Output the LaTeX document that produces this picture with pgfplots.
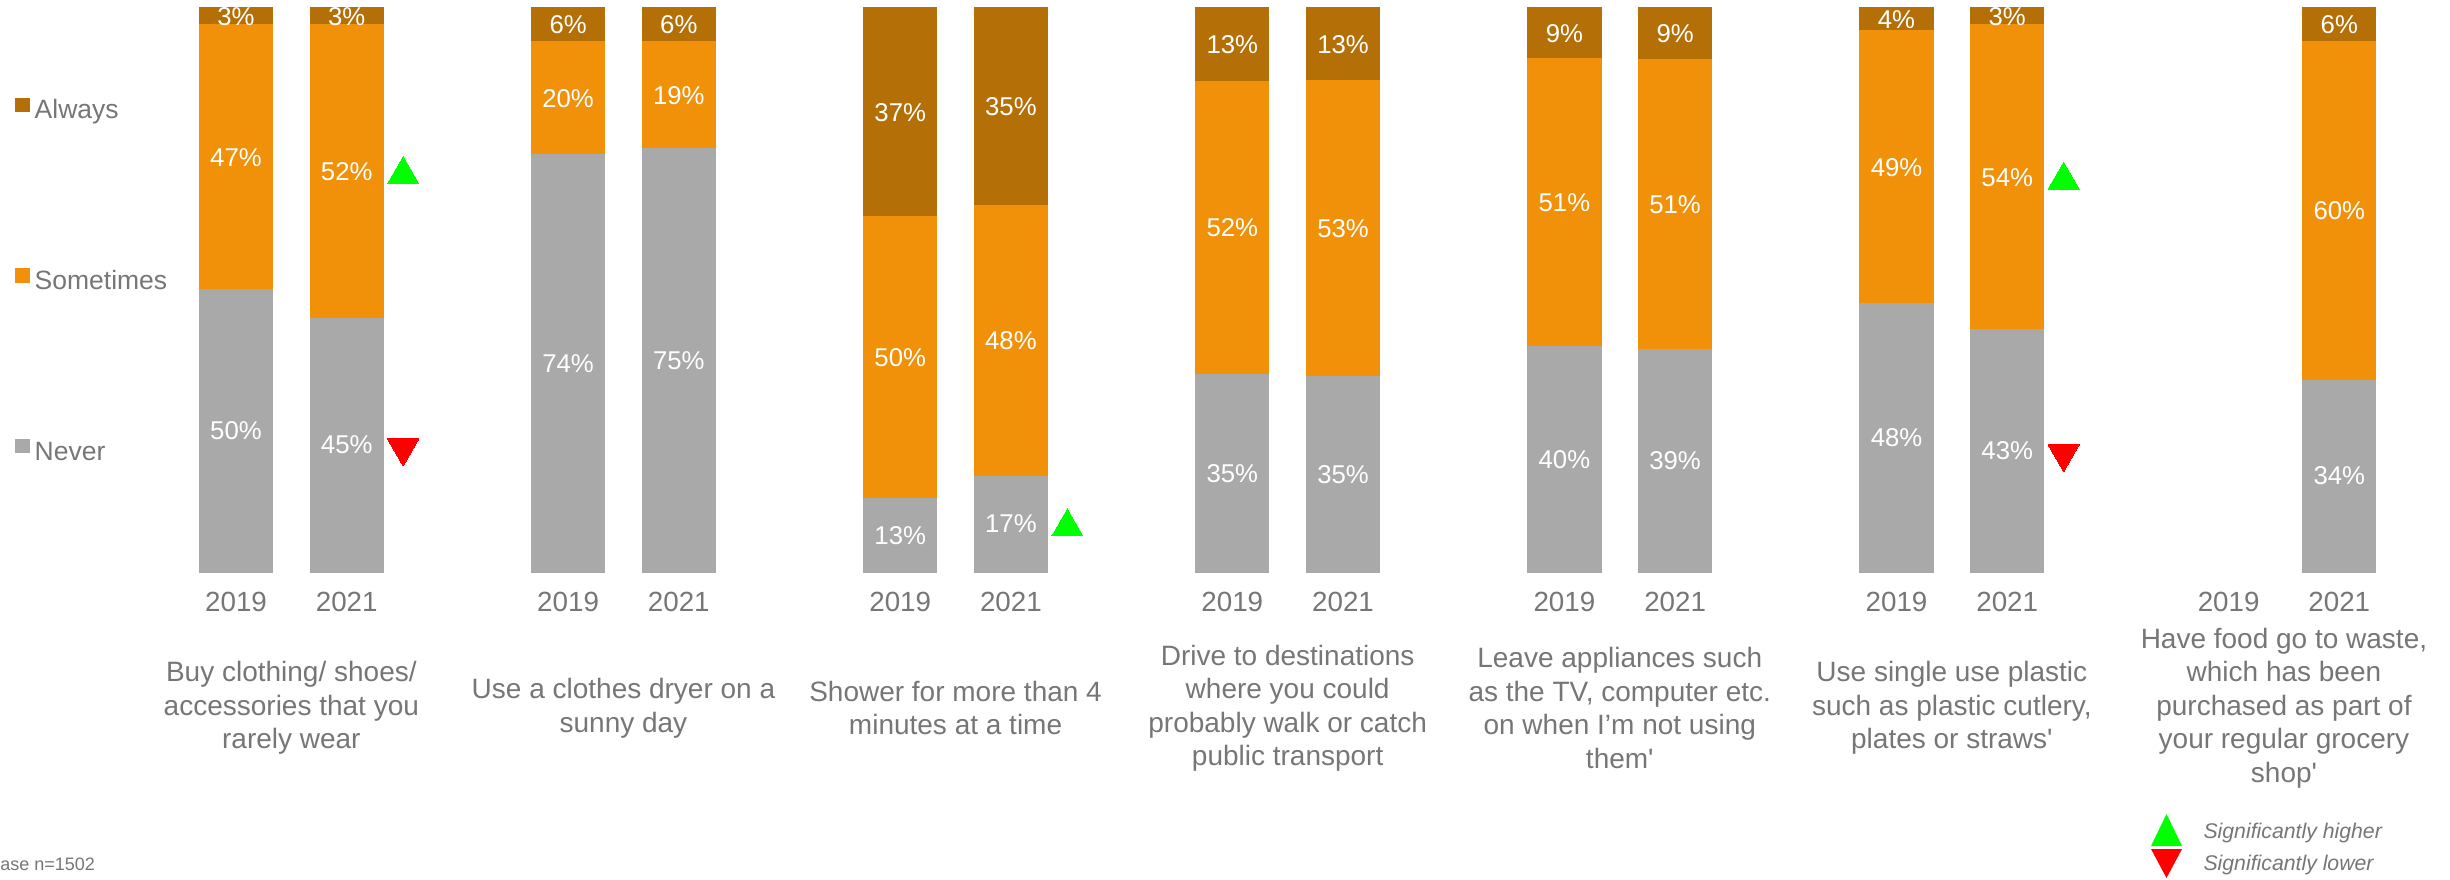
\documentclass[border=0pt]{standalone}
\usepackage{fontspec}
\setmainfont{Liberation Sans}
\usepackage{pgfplots}
\usepackage{pgfplotstable}
\pgfplotsset{compat=1.18}

\definecolor{alwaysc}{HTML}{B46F06}
\definecolor{sometimesc}{HTML}{F19009}
\definecolor{neverc}{HTML}{A9A9A9}
\definecolor{txt}{HTML}{767676}
\definecolor{sigup}{HTML}{00FF00}
\definecolor{sigdown}{HTML}{FF0000}

% x: 2019 at 3k, 2021 at 3k+1; n = never, s = sometimes, a = always (%)
\pgfplotstableread{
x  n  s  a
0  50 47 3
1  45 52 3
3  74 20 6
4  75 19 6
6  13 50 37
7  17 48 35
9  35 52 13
10 35 53 13
12 40 51 9
13 39 51 9
15 48 49 4
16 43 54 3
19 34 60 6
}\data

\newcommand{\tot}{(\thisrow{n}+\thisrow{s}+\thisrow{a})}

\pgfplotsset{
  seg/.style={ybar, bar width=29.2pt, bar shift=0pt, draw=#1, line width=0.5pt, fill=#1,
    legend image code/.code={\fill[##1] (0pt,0.3pt) rectangle (5.2pt,5.5pt);}},
  lbl/.style={only marks, mark=none, forget plot, point meta=explicit,
    nodes near coords={\pgfmathprintnumber[assume math mode=true]{\pgfplotspointmeta}\%},
    every node near coord/.append style={anchor=center, text=white,
      font=\fontsize{10.3}{12}\selectfont}},
}

\begin{document}
\begin{tikzpicture}
\begin{axis}[
  at={(0,0)}, anchor=south west,
  scale only axis, width=980pt, height=225.6pt,
  xmin=-2.132, xmax=20, ymin=0, ymax=100,
  clip=false,
  axis line style={draw=none}, major tick length=0pt,
  ytick=\empty,
  xtick={0,1,3,4,6,7,9,10,12,13,15,16,18,19},
  xticklabels={2019,2021,2019,2021,2019,2021,2019,2021,2019,2021,2019,2021,2019,2021},
  xticklabel style={anchor=center, yshift=-12pt, text=txt,
    font=\fontsize{11.1}{13}\selectfont},
  legend cell align=left,
  legend style={draw=none, fill=none, inner sep=0pt,
    at={(0.0061,0.842)}, anchor=north west,
    font=\fontsize{10.6}{12}\selectfont, text=txt,
    row sep=57.6pt,
    nodes={inner sep=0pt, text height=7.6pt, text depth=2.2pt},
    /tikz/every odd column/.append style={column sep=2pt}},
]
% bars drawn as cumulative shares, top segment first
\addplot[seg=alwaysc] table[x=x, y expr={100*(\thisrow{n}+\thisrow{s}+\thisrow{a})/\tot}] {\data};
\addlegendentry{Always}
\addplot[seg=sometimesc] table[x=x, y expr={100*(\thisrow{n}+\thisrow{s})/\tot}] {\data};
\addlegendentry{Sometimes}
\addplot[seg=neverc] table[x=x, y expr={100*\thisrow{n}/\tot}] {\data};
\addlegendentry{Never}

% value labels in the middle of each segment
\addplot[lbl] table[x=x, y expr={50*\thisrow{n}/\tot}, meta=n] {\data};
\addplot[lbl] table[x=x, y expr={100*(\thisrow{n}+\thisrow{s}/2)/\tot}, meta=s] {\data};
\addplot[lbl] table[x=x, y expr={100*(\thisrow{n}+\thisrow{s}+\thisrow{a}/2)/\tot}, meta=a] {\data};

% significance markers
\addplot[only marks, forget plot, color=sigup, mark=triangle*, mark size=7.2pt,
  mark options={draw=sigup, fill=sigup, line width=0pt}] coordinates {(1.51,70.5) (7.51,8) (16.51,69.5)};
\addplot[only marks, forget plot, color=sigdown, mark=triangle*, mark size=7.2pt,
  mark options={draw=sigdown, fill=sigdown, line width=0pt, rotate=180}] coordinates {(1.51,22) (16.51,21)};

% statement labels
\begin{scope}[every node/.style={align=center, text=txt, font=\fontsize{11.2}{13.4}\selectfont, yshift=-54.4pt}]
\node at (axis cs:0.5,0) {Buy clothing/ shoes/\\accessories that you\\rarely wear};
\node at (axis cs:3.5,0) {Use a clothes dryer on a\\sunny day};
\node at (axis cs:6.5,0) {Shower for more than 4\\minutes at a time};
\node at (axis cs:9.5,0) {Drive to destinations\\where you could\\probably walk or catch\\public transport};
\node at (axis cs:12.5,0) {Leave appliances such\\as the TV, computer etc.\\on when I’m not using\\them\textquotesingle};
\node at (axis cs:15.5,0) {Use single use plastic\\such as plastic cutlery,\\plates or straws\textquotesingle};
\node at (axis cs:18.5,0) {Have food go to waste,\\which has been\\purchased as part of\\your regular grocery\\shop\textquotesingle};
\end{scope}
\end{axis}

% base note and significance key
\node[anchor=west, inner sep=0pt, text=txt, font=\fontsize{7.2}{8}\selectfont] at (-4.9pt,-116.8pt) {Base n=1502};
\fill[sigup] (860.4pt,-109.6pt) -- (872.8pt,-109.6pt) -- (866.6pt,-96.8pt) -- cycle;
\fill[sigdown] (860.4pt,-110.8pt) -- (872.8pt,-110.8pt) -- (866.6pt,-122.4pt) -- cycle;
\node[anchor=west, inner sep=0pt, text=txt, font=\fontsize{8.5}{10}\selectfont\itshape] at (881.2pt,-104.4pt) {Significantly higher};
\node[anchor=west, inner sep=0pt, text=txt, font=\fontsize{8.5}{10}\selectfont\itshape] at (881.2pt,-117.2pt) {Significantly lower};

\pgfresetboundingbox
\useasboundingbox (0,-122.8pt) rectangle (980pt,228.8pt);
\end{tikzpicture}
\end{document}
